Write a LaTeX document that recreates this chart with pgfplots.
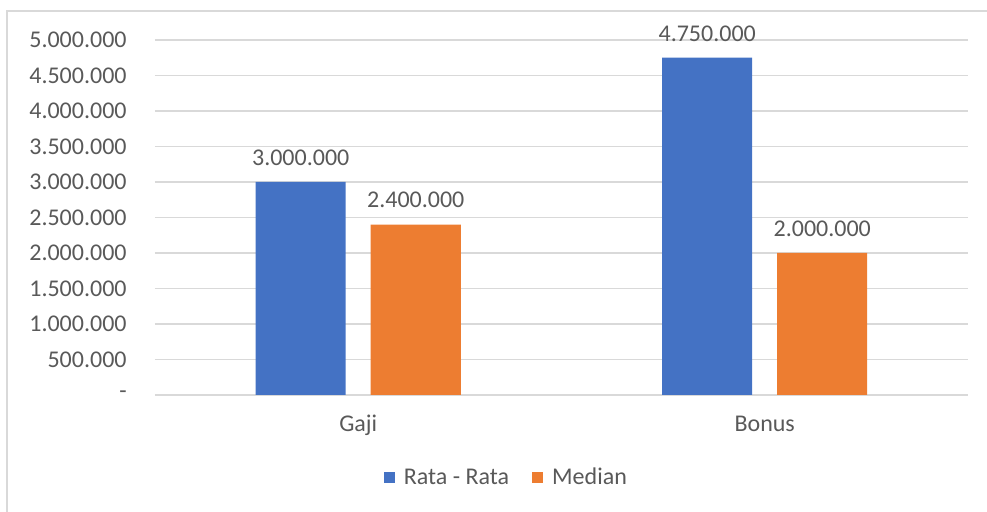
\documentclass[border=0pt]{standalone}
\usepackage{pgfplots}
\pgfplotsset{compat=1.18}
\usepackage{fontspec}
\setmainfont{Carlito}
\definecolor{txt}{HTML}{595959}
\definecolor{grid}{HTML}{D9D9D9}
\definecolor{cblue}{HTML}{4472C4}
\definecolor{corange}{HTML}{ED7D31}
\begin{document}
\fontsize{12}{14}\selectfont
\begin{tikzpicture}
\useasboundingbox (0,0) rectangle (493.5pt,256pt);
\draw[grid, line width=0.8pt] (3.5pt,0pt) -- (3.5pt,250.5pt) -- (493.5pt,250.5pt);
\begin{axis}[
  at={(77.5pt,58.5pt)}, anchor=south west,
  scale only axis, width=406.5pt, height=177.5pt,
  ybar=12.5pt, bar width=45pt,
  xmin=-0.5, xmax=1.5, ymin=0, ymax=5000000,
  enlarge x limits=false, enlarge y limits=false,
  scaled y ticks=false,
  axis lines=left, axis line style={draw=none},
  major tick length=0pt,
  xtick={0,1}, xticklabels={Gaji,Bonus},
  ytick={0,500000,1000000,1500000,2000000,2500000,3000000,3500000,4000000,4500000,5000000},
  yticklabels={-,500.000,1.000.000,1.500.000,2.000.000,2.500.000,3.000.000,3.500.000,4.000.000,4.500.000,5.000.000},
  ymajorgrids, grid style={draw=grid, line width=0.8pt},
  /pgf/number format/assume math mode=true,
  ticklabel style={font=\fontsize{12}{14}\selectfont, text=txt},
  yticklabel style={anchor=east, inner sep=0pt, xshift=-14pt},
  xticklabel style={anchor=base, inner sep=0pt, yshift=-18.5pt},
  point meta=y,
  nodes near coords={\pgfmathprintnumber[fixed,precision=0,1000 sep={.},assume math mode=true]{\pgfplotspointmeta}},
  every node near coord/.append style={anchor=base, inner sep=0pt, yshift=8.3pt, text=txt, font=\fontsize{12}{14}\selectfont},
  legend columns=-1,
  legend style={at={(0.431,-0.234)}, anchor=center, draw=none, fill=none,
    inner sep=0pt, outer sep=0pt,
    nodes={inner sep=0pt, anchor=base west, text=txt, font=\fontsize{12}{14}\selectfont},
    /tikz/every odd column/.append style={column sep=4.5pt},
    /tikz/every even column/.append style={column sep=11.5pt}},
  legend image code/.code={\fill[#1] (0pt,1pt) rectangle (5.5pt,6.5pt);},
]
\addplot[draw=none, fill=cblue] coordinates {(0,3000000) (1,4750000)};
\addplot[draw=none, fill=corange] coordinates {(0,2400000) (1,2000000)};
\legend{Rata - Rata, Median}
\end{axis}
\end{tikzpicture}
\end{document}
